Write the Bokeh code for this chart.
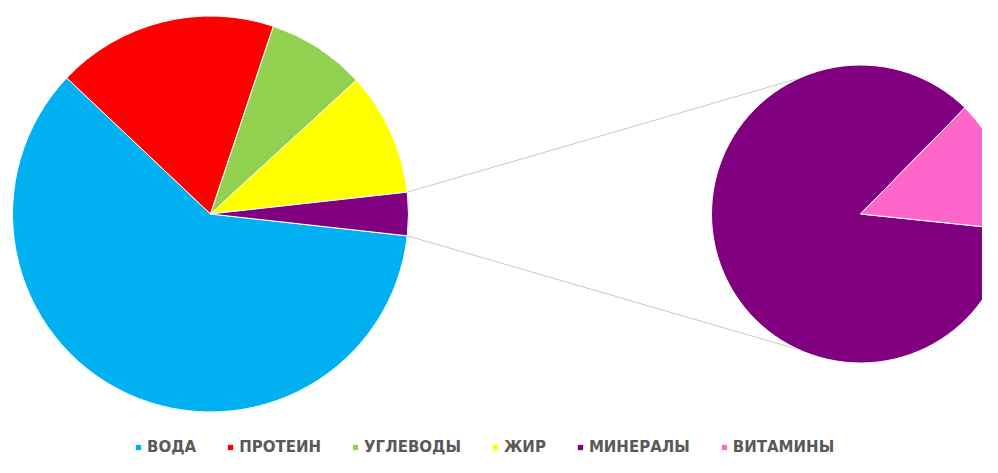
import numpy as np
from bokeh.plotting import figure
from bokeh.models import ColumnDataSource, Range1d, Legend, LegendItem
from bokeh.embed import file_html
from bokeh.resources import INLINE

# ---------------- data ----------------
categories = ["ВОДА", "ПРОТЕИН", "УГЛЕВОДЫ", "ЖИР", "МИНЕРАЛЫ", "ВИТАМИНЫ"]
values = [60, 18, 8, 10, 3, 0.5]
colors = ["#00B0F0", "#FF0000", "#92D050", "#FFFF00", "#800080", "#FF66CC"]
n_second = 2  # last values shown in the secondary pie

# ---------------- layout ----------------
W, H = 982, 457
main_cx, main_cy, main_r = 210, H - 213.5, 198
sec_cx, sec_cy, sec_r = 860, H - 213.5, 149
sec_start = np.deg2rad(45.5)
conn_angle = np.deg2rad(114.5)

p = figure(width=W, height=H, output_backend="svg", toolbar_location=None,
           x_range=Range1d(0, W), y_range=Range1d(0, H),
           x_axis_type=None, y_axis_type=None, min_border=0,
           outline_line_color=None, background_fill_color="white",
           border_fill_color="white")
p.grid.visible = False

total = float(sum(values))
first_vals = values[:-n_second]
sub_vals = values[-n_second:]
other = float(sum(sub_vals))

# main pie: "other" slice centered on the right, slices clockwise in data order
theta_o = other / total * 2 * np.pi
starts = [0.0] * len(first_vals)
ends = [0.0] * len(first_vals)
cur = theta_o / 2
for i in reversed(range(len(first_vals))):
    starts[i] = cur
    cur += first_vals[i] / total * 2 * np.pi
    ends[i] = cur
main_src = ColumnDataSource(dict(
    start=starts + [-theta_o / 2],
    end=ends + [theta_o / 2],
    color=colors[:-n_second] + [colors[-n_second]],
))

# secondary pie
s_starts, s_ends = [], []
cur = sec_start
for v in sub_vals:
    s_starts.append(cur)
    cur += v / other * 2 * np.pi
    s_ends.append(cur)
sec_src = ColumnDataSource(dict(start=s_starts, end=s_ends, color=colors[-n_second:]))

# connector lines (drawn first, under the pies)
x0s = [main_cx + main_r * np.cos(theta_o / 2), main_cx + main_r * np.cos(-theta_o / 2)]
y0s = [main_cy + main_r * np.sin(theta_o / 2), main_cy + main_r * np.sin(-theta_o / 2)]
x1s = [sec_cx + sec_r * np.cos(conn_angle), sec_cx + sec_r * np.cos(-conn_angle)]
y1s = [sec_cy + sec_r * np.sin(conn_angle), sec_cy + sec_r * np.sin(-conn_angle)]
p.segment(x0=x0s, y0=y0s, x1=x1s, y1=y1s, line_color="#C8C8C8", line_width=1)

r_main = p.wedge(x=main_cx, y=main_cy, radius=main_r, radius_units="screen",
                 start_angle="start", end_angle="end", fill_color="color",
                 line_color="white", line_width=1, source=main_src)
r_sec = p.wedge(x=sec_cx, y=sec_cy, radius=sec_r, radius_units="screen",
                start_angle="start", end_angle="end", fill_color="color",
                line_color="white", line_width=1, source=sec_src)

items = [LegendItem(label=categories[i], renderers=[r_main], index=i)
         for i in range(len(first_vals))]
items += [LegendItem(label=categories[len(first_vals) + j], renderers=[r_sec], index=j)
          for j in range(n_second)]

legend = Legend(items=items, orientation="horizontal", location=(134, 1),
                glyph_width=8, glyph_height=8, label_standoff=5, spacing=30,
                padding=0, margin=0, border_line_color=None,
                background_fill_alpha=0, label_height=15,
                label_text_font="DejaVu Sans", label_text_font_style="bold",
                label_text_font_size="15px", label_text_color="#595959")
p.add_layout(legend)

open("out.html", "w", encoding="utf-8").write(file_html(p, INLINE))
